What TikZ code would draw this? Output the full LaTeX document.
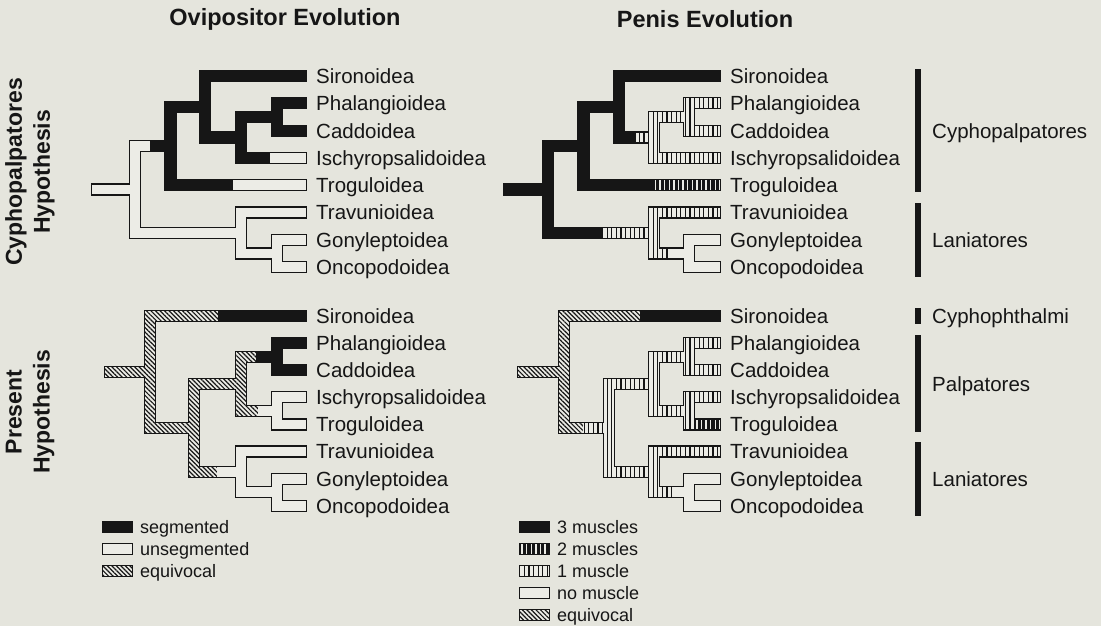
\documentclass[tikz,border=0pt]{standalone}
\usepackage{fontspec}
\setmainfont{Liberation Sans}
\usetikzlibrary{patterns.meta}
\definecolor{bgc}{RGB}{229,229,221}
\definecolor{barfill}{RGB}{236,236,230}
\definecolor{ink}{RGB}{22,22,22}
\newcommand{\bhw}{4.9}
\newcommand{\olw}{1.2}
\tikzset{
  segK/.style={fill=ink},
  segW/.style={fill=barfill},
  segA/.style={preaction={fill=barfill},pattern={Lines[angle=90,distance=4.6pt,line width=1.1pt]},pattern color=ink},
  segB/.style={preaction={fill=barfill},pattern={Lines[angle=90,distance=4.6pt,line width=3.1pt]},pattern color=ink},
  segE/.style={preaction={fill=barfill},pattern={Lines[angle=-45,distance=3.2pt,line width=1.2pt]},pattern color=ink},
  lab/.style={anchor=base west,inner sep=0pt,text=ink,font=\fontsize{20.5}{24}\selectfont},
  leg/.style={anchor=base west,inner sep=0pt,text=ink,font=\fontsize{18}{22}\selectfont},
  ttl/.style={inner sep=0pt,text=ink,font=\bfseries\fontsize{23.5}{28}\selectfont},
  rowlab/.style={inner sep=0pt,text=ink,align=center,rotate=90,font=\bfseries\fontsize{23}{28}\selectfont},
}
% tree definitions: \brh{style}{x1}{x2}{y}, \brv{style}{x}{y1}{y2}
\newcommand{\treeTL}{%
  \brh{segW}{92}{135}{189.46}%
  \brh{segW}{135}{150}{145.95}\brh{segK}{150}{170.5}{145.95}%
  \brh{segW}{135}{241}{232.98}%
  \brh{segK}{170.5}{205}{106.7}%
  \brh{segK}{170.5}{233}{185.2}\brh{segW}{233}{306}{185.2}%
  \brh{segK}{205}{306}{76}%
  \brh{segK}{205}{241}{137.43}%
  \brh{segK}{241}{277}{116.95}%
  \brh{segK}{241}{270}{157.9}\brh{segW}{270}{306}{157.9}%
  \brh{segK}{277}{306}{103.3}%
  \brh{segK}{277}{306}{130.6}%
  \brh{segW}{241}{306}{212.5}%
  \brh{segW}{241}{277}{253.45}%
  \brh{segW}{277}{306}{239.8}%
  \brh{segW}{277}{306}{267.1}%
  \brv{segW}{135}{145.95}{232.98}%
  \brv{segK}{170.5}{106.7}{185.2}%
  \brv{segK}{205}{76}{137.43}%
  \brv{segK}{241}{116.95}{157.9}%
  \brv{segK}{277}{103.3}{130.6}%
  \brv{segW}{241}{212.5}{253.45}%
  \brv{segW}{277}{239.8}{267.1}%
}
\newcommand{\treeTR}{%
  \brh{segK}{504}{548}{189.46}%
  \brh{segK}{548}{583.5}{145.95}%
  \brh{segK}{548}{602}{232.98}\brh{segA}{602}{654}{232.98}%
  \brh{segK}{583.5}{619}{106.7}%
  \brh{segK}{583.5}{652}{185.2}\brh{segB}{652}{720}{185.2}%
  \brh{segK}{619}{720}{76}%
  \brh{segK}{619}{636}{137.43}\brh{segA}{636}{654}{137.43}%
  \brh{segA}{654}{689}{116.95}%
  \brh{segA}{654}{720}{157.9}%
  \brh{segA}{689}{720}{103.3}%
  \brh{segA}{689}{720}{130.6}%
  \brh{segA}{654}{720}{212.5}%
  \brh{segA}{654}{670}{253.45}\brh{segW}{670}{689}{253.45}%
  \brh{segW}{689}{720}{239.8}%
  \brh{segW}{689}{720}{267.1}%
  \brv{segK}{548}{145.95}{232.98}%
  \brv{segK}{583.5}{106.7}{185.2}%
  \brv{segK}{619}{76}{137.43}%
  \brv{segA}{654}{116.95}{157.9}%
  \brv{segA}{689}{103.3}{130.6}%
  \brv{segA}{654}{212.5}{253.45}%
  \brv{segW}{689}{239.8}{267.1}%
}
\newcommand{\treeBL}{%
  \brh{segE}{105}{150}{371.9}%
  \brh{segE}{150}{218}{316}\brh{segK}{218}{306}{316}%
  \brh{segE}{150}{194}{427.79}%
  \brh{segE}{194}{241}{383.75}%
  \brh{segE}{194}{217}{471.83}\brh{segW}{217}{241}{471.83}%
  \brh{segE}{241}{256}{356.65}\brh{segK}{256}{277}{356.65}%
  \brh{segE}{241}{258}{410.85}\brh{segW}{258}{277}{410.85}%
  \brh{segK}{277}{306}{343.1}%
  \brh{segK}{277}{306}{370.2}%
  \brh{segW}{277}{306}{397.3}%
  \brh{segW}{277}{306}{424.4}%
  \brh{segW}{241}{306}{451.5}%
  \brh{segW}{241}{277}{492.15}%
  \brh{segW}{277}{306}{478.6}%
  \brh{segW}{277}{306}{505.7}%
  \brv{segE}{150}{316}{427.79}%
  \brv{segE}{194}{383.75}{471.83}%
  \brv{segE}{241}{356.65}{410.85}%
  \brv{segK}{277}{343.1}{370.2}%
  \brv{segW}{277}{397.3}{424.4}%
  \brv{segW}{241}{451.5}{492.15}%
  \brv{segW}{277}{478.6}{505.7}%
}
\newcommand{\treeBR}{%
  \brh{segE}{518}{564}{371.9}%
  \brh{segE}{564}{640}{316}\brh{segK}{640}{720}{316}%
  \brh{segE}{564}{583}{427.79}\brh{segA}{583}{609}{427.79}%
  \brh{segA}{609}{654}{383.75}%
  \brh{segA}{609}{654}{471.83}%
  \brh{segA}{654}{689}{356.65}%
  \brh{segA}{654}{689}{410.85}%
  \brh{segA}{689}{720}{343.1}%
  \brh{segA}{689}{720}{370.2}%
  \brh{segA}{689}{720}{397.3}%
  \brh{segB}{689}{720}{424.4}%
  \brh{segA}{654}{720}{451.5}%
  \brh{segA}{654}{672}{492.15}\brh{segW}{672}{689}{492.15}%
  \brh{segW}{689}{720}{478.6}%
  \brh{segW}{689}{720}{505.7}%
  \brv{segE}{564}{316}{427.79}%
  \brv{segA}{609}{383.75}{471.83}%
  \brv{segA}{654}{356.65}{410.85}%
  \brv{segA}{689}{343.1}{370.2}%
  \brv{segA}{689}{397.3}{424.4}%
  \brv{segA}{654}{451.5}{492.15}%
  \brv{segW}{689}{478.6}{505.7}%
}
\newcommand{\legsw}[3]{%
  \fill[ink] ({#2-\olw},{#3-5-\olw}) rectangle ({#2+29+\olw},{#3+5+\olw});
  \fill[#1] (#2,{#3-5}) rectangle ({#2+29},{#3+5});
}
\begin{document}
\begin{tikzpicture}[x=1pt,y=-1pt]
\fill[bgc] (0,0) rectangle (1101,626);
\useasboundingbox (0,0) rectangle (1101,626);
% outline pass
\def\brh#1#2#3#4{\fill[ink] ({#2-\olw},{#4-\bhw-\olw}) rectangle ({#3+\olw},{#4+\bhw+\olw});}
\def\brv#1#2#3#4{\fill[ink] ({#2-\bhw-\olw},{#3-\bhw-\olw}) rectangle ({#2+\bhw+\olw},{#4+\bhw+\olw});}
\treeTL \treeTR \treeBL \treeBR
% fill pass
\def\brh#1#2#3#4{\fill[#1] (#2,{#4-\bhw}) rectangle (#3,{#4+\bhw});}
\def\brv#1#2#3#4{\fill[#1] ({#2-\bhw},{#3-\bhw}) rectangle ({#2+\bhw},{#4+\bhw});}
\treeTL \treeTR \treeBL \treeBR

% titles
\node[ttl] (ttlO) at (285,19) {Ovipositor Evolution};
\node[ttl] (ttlP) at (705,19) {Penis Evolution};
\node[rowlab] (rowC) at (30,172) {Cyphopalpatores\\Hypothesis};
\node[rowlab] (rowP) at (30,412) {Present\\Hypothesis};

% labels top-left
\node[lab] (tlS) at (316,83.4) {Sironoidea};
\node[lab] (tlP) at (316,110.7) {Phalangioidea};
\node[lab] (tlC) at (316,138) {Caddoidea};
\node[lab] (tlI) at (316,165.3) {Ischyropsalidoidea};
\node[lab] (tlT) at (316,192.6) {Troguloidea};
\node[lab] (tlTr) at (316,219.9) {Travunioidea};
\node[lab] (tlG) at (316,247.2) {Gonyleptoidea};
\node[lab] (tlO) at (316,274.5) {Oncopodoidea};
% labels top-right
\node[lab] (trS) at (730,83.4) {Sironoidea};
\node[lab] (trP) at (730,110.7) {Phalangioidea};
\node[lab] (trC) at (730,138) {Caddoidea};
\node[lab] (trI) at (730,165.3) {Ischyropsalidoidea};
\node[lab] (trT) at (730,192.6) {Troguloidea};
\node[lab] (trTr) at (730,219.9) {Travunioidea};
\node[lab] (trG) at (730,247.2) {Gonyleptoidea};
\node[lab] (trO) at (730,274.5) {Oncopodoidea};
% labels bottom-left
\node[lab] (blS) at (316,323.4) {Sironoidea};
\node[lab] (blP) at (316,350.5) {Phalangioidea};
\node[lab] (blC) at (316,377.6) {Caddoidea};
\node[lab] (blI) at (316,404.7) {Ischyropsalidoidea};
\node[lab] (blT) at (316,431.8) {Troguloidea};
\node[lab] (blTr) at (316,458.9) {Travunioidea};
\node[lab] (blG) at (316,486) {Gonyleptoidea};
\node[lab] (blO) at (316,513.1) {Oncopodoidea};
% labels bottom-right
\node[lab] (brS) at (730,323.4) {Sironoidea};
\node[lab] (brP) at (730,350.5) {Phalangioidea};
\node[lab] (brC) at (730,377.6) {Caddoidea};
\node[lab] (brI) at (730,404.7) {Ischyropsalidoidea};
\node[lab] (brT) at (730,431.8) {Troguloidea};
\node[lab] (brTr) at (730,458.9) {Travunioidea};
\node[lab] (brG) at (730,486) {Gonyleptoidea};
\node[lab] (brO) at (730,513.1) {Oncopodoidea};

% clade bars
\fill[ink] (915,69) rectangle (921,192);
\fill[ink] (915,203) rectangle (921,277);
\fill[ink] (915,308) rectangle (921,324);
\fill[ink] (915,335) rectangle (921,432);
\fill[ink] (915,442) rectangle (921,516);
\node[lab] (cCy) at (932,138) {Cyphopalpatores};
\node[lab] (cLa1) at (932,247.5) {Laniatores};
\node[lab] (cCt) at (932,323.4) {Cyphophthalmi};
\node[lab] (cPa) at (932,391.2) {Palpatores};
\node[lab] (cLa2) at (932,486) {Laniatores};

% legend left
\legsw{segK}{103}{527}
\legsw{segW}{103}{549}
\legsw{segE}{103}{571}
\node[leg] (lg1) at (140,533.5) {segmented};
\node[leg] (lg2) at (140,555.5) {unsegmented};
\node[leg] (lg3) at (140,577.5) {equivocal};
% legend right
\legsw{segK}{520}{527}
\legsw{segB}{520}{549}
\legsw{segA}{520}{571}
\legsw{segW}{520}{593}
\legsw{segE}{520}{615}
\node[leg] (lr1) at (557,533.5) {3 muscles};
\node[leg] (lr2) at (557,555.5) {2 muscles};
\node[leg] (lr3) at (557,577.5) {1 muscle};
\node[leg] (lr4) at (557,599.5) {no muscle};
\node[leg] (lr5) at (557,621.5) {equivocal};
\end{tikzpicture}
\end{document}
